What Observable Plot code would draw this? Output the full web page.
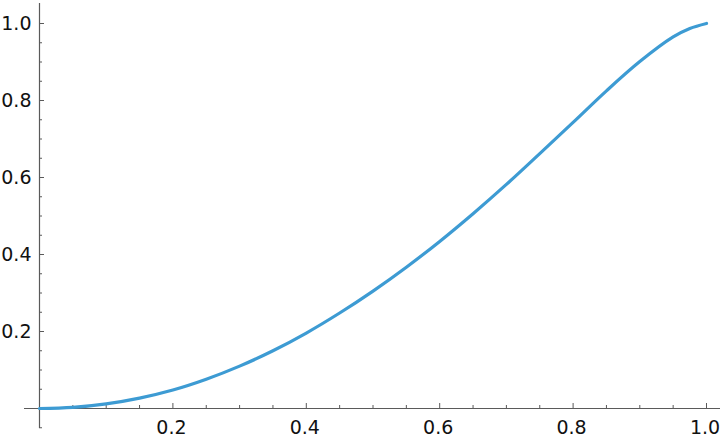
<!DOCTYPE html>
<html>
<head>
<meta charset="utf-8">
<script src="https://cdn.jsdelivr.net/npm/d3@7"></script>
<script src="https://cdn.jsdelivr.net/npm/@observablehq/plot@0.6"></script>
<style>
  html, body { margin: 0; padding: 0; background: #fff; }
  #chart svg { display: block; }
</style>
</head>
<body>
<div id="chart"></div>
<script>
// Data
const xs = [0, 0.05, 0.1, 0.15, 0.2, 0.25, 0.3, 0.35, 0.4, 0.45, 0.5, 0.55, 0.6, 0.65, 0.7, 0.75, 0.8, 0.85, 0.9, 0.95, 0.975, 1.0];
const ys = [0, 0.003, 0.012, 0.027, 0.048, 0.076, 0.110, 0.150, 0.196, 0.248, 0.305, 0.367, 0.434, 0.506, 0.582, 0.662, 0.743, 0.825, 0.901, 0.965, 0.987, 1.0];

const xTickLabels = [0.2, 0.4, 0.6, 0.8, 1.0];
const yTickLabels = [0.2, 0.4, 0.6, 0.8, 1.0];
const xMinor = [0.05, 0.1, 0.15, 0.25, 0.3, 0.35, 0.45, 0.5, 0.55, 0.65, 0.7, 0.75, 0.85, 0.9, 0.95];
const yMinor = [-0.05, 0.05, 0.1, 0.15, 0.25, 0.3, 0.35, 0.45, 0.5, 0.55, 0.65, 0.7, 0.75, 0.85, 0.9, 0.95];

const data = xs.map((x, i) => ({x, y: ys[i]}));

const W = 720, H = 440;
const mL = 24, mR = 0, mT = 3, mB = 12;
const x0px = 39, x1px = 706, y0px = 408, y1px = 23;
const xu = (x1px - x0px), yu = (y0px - y1px);
const xDomain = [-(x0px - mL) / xu, (W - mR - x0px) / xu];
const yDomain = [-((H - mB) - y0px) / yu, (y0px - mT) / yu];
const px2x = 1 / xu, px2y = 1 / yu;

const axisColor = "#5a5a5a";
const fontFamily = "'DejaVu Sans', sans-serif";

const plot = Plot.plot({
  width: W,
  height: H,
  marginLeft: mL, marginRight: mR, marginTop: mT, marginBottom: mB,
  x: {domain: xDomain, axis: null},
  y: {domain: yDomain, axis: null},
  style: {fontFamily, background: "#fff"},
  marks: [
    // axis lines
    Plot.ruleY([0], {stroke: axisColor, strokeWidth: 1.2}),
    Plot.ruleX([0], {stroke: axisColor, strokeWidth: 1.2}),
    // x ticks (pointing up)
    Plot.ruleX(xTickLabels, {x: d => d, y1: 0, y2: 5 * px2y, stroke: axisColor, strokeWidth: 1}),
    Plot.ruleX(xMinor, {x: d => d, y1: 0, y2: 3 * px2y, stroke: axisColor, strokeWidth: 1}),
    // y ticks (pointing right)
    Plot.ruleY(yTickLabels, {y: d => d, x1: 0, x2: 5 * px2x, stroke: axisColor, strokeWidth: 1}),
    Plot.ruleY(yMinor, {y: d => d, x1: 0, x2: 3 * px2x, stroke: axisColor, strokeWidth: 1}),
    // tick labels
    Plot.text(xTickLabels, {x: d => d, y: 0, text: d => d.toFixed(1), dy: 19, dx: -1.5, fontSize: 19, fontFamily, fill: "#111", lineAnchor: "middle"}),
    Plot.text(yTickLabels, {x: 0, y: d => d, text: d => d.toFixed(1), dx: -8, textAnchor: "end", fontSize: 19, fontFamily, fill: "#111"}),
    // curve
    Plot.line(data, {x: "x", y: "y", stroke: "#3d9bd3", strokeWidth: 3.2, curve: "catmull-rom"})
  ]
});

document.getElementById("chart").appendChild(plot);
</script>
</body>
</html>
